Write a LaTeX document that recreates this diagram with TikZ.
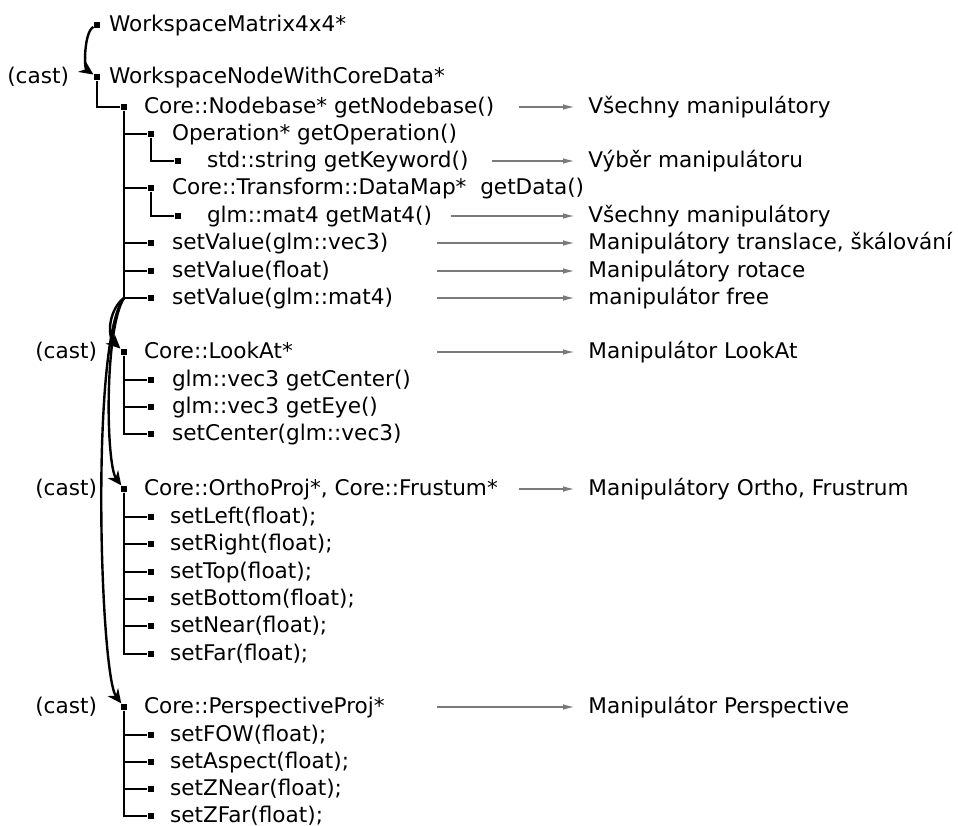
\documentclass[tikz,border=0pt]{standalone}
\usepackage{fontspec}
\setmainfont{DejaVu Sans}
\usetikzlibrary{positioning,arrows.meta}
\definecolor{ink}{HTML}{000000}
\definecolor{hintgray}{HTML}{7A7A7A}

\begin{document}
\begin{tikzpicture}[x=0.5pt,y=0.5pt,font=\fontsize{10.8}{13}\selectfont,
   dot/.style={fill=ink,inner sep=0pt,minimum size=3.2pt},
   item/.style={inner sep=0pt,text height=0.76em,text depth=0.13em},
   tree/.style={draw=ink,line width=1.3pt},
   cast/.style={draw=ink,line width=1.2pt,-{Stealth[length=7pt,width=6.5pt]}},
   hint/.style={draw=hintgray,line width=0.8pt,-{Latex[length=6pt,width=2.8pt]},shorten >=6.5pt}]
 \useasboundingbox (0,0) rectangle (958,-825);
 \coordinate (col) at (588,0);
 % bullets
 \node[dot] (b-ws)  at (97,-25) {};
 \node[dot] (b-wsn) at (97,-77) {};
 \node[dot] (b-nb)  at (124,-107) {};
 \node[dot] (b-op)  at (151,-134) {};
 \node[dot] (b-kw)  at (178,-161) {};
 \node[dot] (b-dm)  at (151,-188) {};
 \node[dot] (b-m4)  at (178,-216) {};
 \node[dot] (b-sv1) at (151,-243) {};
 \node[dot] (b-sv2) at (151,-271) {};
 \node[dot] (b-sv3) at (151,-298) {};
 \node[dot] (b-la)  at (124,-352) {};
 \node[dot] (b-gc)  at (151,-380) {};
 \node[dot] (b-ge)  at (151,-407) {};
 \node[dot] (b-sc)  at (151,-434) {};
 \node[dot] (b-or)  at (124,-489) {};
 \node[dot] (b-sl)  at (151,-517) {};
 \node[dot] (b-sr)  at (151,-544) {};
 \node[dot] (b-st)  at (151,-572) {};
 \node[dot] (b-sb)  at (151,-599) {};
 \node[dot] (b-sn)  at (151,-626) {};
 \node[dot] (b-sf)  at (151,-654) {};
 \node[dot] (b-pp)  at (124,-707) {};
 \node[dot] (b-fw)  at (151,-735) {};
 \node[dot] (b-as)  at (151,-762) {};
 \node[dot] (b-zn)  at (151,-789) {};
 \node[dot] (b-zf)  at (151,-816) {};
 % texts
 \node[item,right=4pt of b-ws]    (ws)  {WorkspaceMatrix4x4*};
 \node[item,right=4pt of b-wsn]   (wsn) {WorkspaceNodeWithCoreData*};
 \node[item,right=8pt of b-nb]    (nb)  {Core::Nodebase* getNodebase()};
 \node[item,right=8.5pt of b-op]  (op)  {Operation* getOperation()};
 \node[item,right=12.5pt of b-kw] (kw)  {std::string getKeyword()};
 \node[item,right=8.5pt of b-dm]  (dm)  {Core::Transform::DataMap*\ \ getData()};
 \node[item,right=12.5pt of b-m4] (m4)  {glm::mat4 getMat4()};
 \node[item,right=8.5pt of b-sv1] (sv1) {setValue(glm::vec3)};
 \node[item,right=8.5pt of b-sv2] (sv2) {setValue(float)};
 \node[item,right=8.5pt of b-sv3] (sv3) {setValue(glm::mat4)};
 \node[item,right=8pt of b-la]    (la)  {Core::LookAt*};
 \node[item,right=8.5pt of b-gc]  (gc)  {glm::vec3 getCenter()};
 \node[item,right=8.5pt of b-ge]  (ge)  {glm::vec3 getEye()};
 \node[item,right=8.5pt of b-sc]  (sc)  {setCenter(glm::vec3)};
 \node[item,right=8pt of b-or]    (or)  {Core::OrthoProj*, Core::Frustum*};
 \node[item,right=7.5pt of b-sl]  (sl)  {setLeft(float);};
 \node[item,right=7.5pt of b-sr]  (sr)  {setRight(float);};
 \node[item,right=7.5pt of b-st]  (st)  {setTop(float);};
 \node[item,right=7.5pt of b-sb]  (sb)  {setBottom(float);};
 \node[item,right=7.5pt of b-sn]  (sn)  {setNear(float);};
 \node[item,right=7.5pt of b-sf]  (sf)  {setFar(float);};
 \node[item,right=8pt of b-pp]    (pp)  {Core::PerspectiveProj*};
 \node[item,right=7.5pt of b-fw]  (fw)  {setFOW(float);};
 \node[item,right=7.5pt of b-as]  (as)  {setAspect(float);};
 \node[item,right=7.5pt of b-zn]  (zn)  {setZNear(float);};
 \node[item,right=7.5pt of b-zf]  (zf)  {setZFar(float);};
 % cast labels
 \node[item,left=12pt of b-wsn] (c-wsn) {(cast)};
 \node[item,left=11.5pt of b-la] (c-la)  {(cast)};
 \node[item,left=11.5pt of b-or] (c-or)  {(cast)};
 \node[item,left=11.5pt of b-pp] (c-pp)  {(cast)};
 % notes
 \node[item,anchor=west] (m-nb)  at (col |- nb)  {Všechny manipulátory};
 \node[item,anchor=west] (m-kw)  at (col |- kw)  {Výběr manipulátoru};
 \node[item,anchor=west] (m-m4)  at (col |- m4)  {Všechny manipulátory};
 \node[item,anchor=west] (m-sv1) at (col |- sv1) {Manipulátory translace, škálování};
 \node[item,anchor=west] (m-sv2) at (col |- sv2) {Manipulátory rotace};
 \node[item,anchor=west] (m-sv3) at (col |- sv3) {manipulátor free};
 \node[item,anchor=west] (m-la)  at (col |- la)  {Manipulátor LookAt};
 \node[item,anchor=west] (m-or)  at (col |- or)  {Manipulátory Ortho, Frustrum};
 \node[item,anchor=west] (m-pp)  at (col |- pp)  {Manipulátor Perspective};
 % tree lines
 \draw[tree] (b-wsn) |- (b-nb);
 \draw[tree] (b-nb) |- (b-op);
 \draw[tree] (b-op) |- (b-kw);
 \draw[tree] (b-nb) |- (b-dm);
 \draw[tree] (b-dm) |- (b-m4);
 \draw[tree] (b-nb) |- (b-sv1);
 \draw[tree] (b-nb) |- (b-sv2);
 \draw[tree] (b-nb) |- (b-sv3);
 \draw[tree] (b-la) |- (b-gc);
 \draw[tree] (b-la) |- (b-ge);
 \draw[tree] (b-la) |- (b-sc);
 \draw[tree] (b-or) |- (b-sl);
 \draw[tree] (b-or) |- (b-sr);
 \draw[tree] (b-or) |- (b-st);
 \draw[tree] (b-or) |- (b-sb);
 \draw[tree] (b-or) |- (b-sn);
 \draw[tree] (b-or) |- (b-sf);
 \draw[tree] (b-pp) |- (b-fw);
 \draw[tree] (b-pp) |- (b-as);
 \draw[tree] (b-pp) |- (b-zn);
 \draw[tree] (b-pp) |- (b-zf);
 % casts
 \coordinate (j) at (b-nb |- b-sv3);
 \draw[cast] (b-ws) .. controls (84,-32) and (84,-68) .. (b-wsn);
 \draw[cast] (j) .. controls (110,-308) and (106,-335) .. (b-la);
 \draw[cast] (j) .. controls (104,-330) and (106,-465) .. (b-or);
 \draw[cast] (j) .. controls (90,-340) and (100,-675) .. (b-pp);
 % hints
 \draw[hint] ([xshift=-34.5pt]m-nb.west) -- (m-nb);
 \draw[hint] ([xshift=-48pt]m-kw.west) -- (m-kw);
 \draw[hint] ([xshift=-68.5pt]m-m4.west) -- (m-m4);
 \draw[hint] ([xshift=-75.5pt]m-sv1.west) -- (m-sv1);
 \draw[hint] ([xshift=-75.5pt]m-sv2.west) -- (m-sv2);
 \draw[hint] ([xshift=-75.5pt]m-sv3.west) -- (m-sv3);
 \draw[hint] ([xshift=-75.5pt]m-la.west) -- (m-la);
 \draw[hint] ([xshift=-34.5pt]m-or.west) -- (m-or);
 \draw[hint] ([xshift=-75.5pt]m-pp.west) -- (m-pp);
\end{tikzpicture}
\end{document}
